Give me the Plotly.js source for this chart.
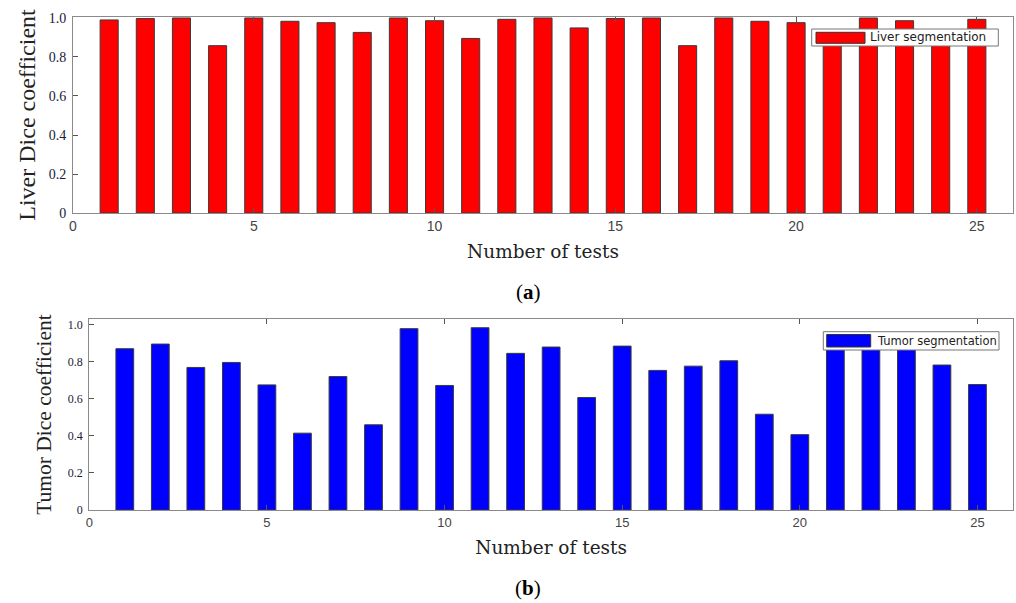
<!DOCTYPE html>
<html>
<head>
<meta charset="utf-8">
<script src="https://cdn.plot.ly/plotly-3.0.1.min.js"></script>
<style>html,body{margin:0;padding:0;background:#fff;}#chart{width:1016px;height:603px;}</style>
</head>
<body>
<div id="chart"></div>
<script>
const tests = [1,2,3,4,5,6,7,8,9,10,11,12,13,14,15,16,17,18,19,20,21,22,23,24,25];
const liverDice = [0.990,0.997,1.0,0.858,1.0,0.983,0.976,0.926,1.0,0.986,0.895,0.993,1.0,0.949,0.997,1.0,0.858,1.0,0.983,0.976,0.92,1.0,0.986,0.93,0.993];
const tumorDice = [0.869,0.894,0.768,0.795,0.674,0.414,0.719,0.459,0.977,0.671,0.982,0.844,0.878,0.606,0.883,0.752,0.775,0.804,0.516,0.406,0.92,0.93,0.90,0.781,0.676];
const xTicks = [0,5,10,15,20,25];
const yTickVals = [0,0.2,0.4,0.6,0.8,1.0];
const yTickText = ['0','0.2','0.4','0.6','0.8','1.0'];
const liverName = 'Liver segmentation';
const tumorName = 'Tumor segmentation';

const frame = '#8a8a8a';
const serif = 'Liberation Serif, Times New Roman, serif';
const wideSerif = 'DejaVu Serif, Georgia, serif';
const sans = 'Liberation Sans, Arial, sans-serif';
const wideSans = 'DejaVu Sans, Verdana, sans-serif';

const traces = [
  {type:'bar', x:tests, y:liverDice, name:liverName, xaxis:'x', yaxis:'y',
   marker:{color:'#ff0000', line:{color:'#3a3a3a', width:1}}, showlegend:false, hoverinfo:'x+y'},
  {type:'bar', x:tests, y:tumorDice, name:tumorName, xaxis:'x2', yaxis:'y2',
   marker:{color:'#0000ff', line:{color:'#3a3a3a', width:1}}, showlegend:false, hoverinfo:'x+y'}
];

function xax(domain, anchor, fs, standoff){
  return {domain:domain, anchor:anchor, range:[0,26], tickvals:xTicks, ticktext:xTicks.map(String),
    ticks:'inside', ticklen:5, tickcolor:'#555', showline:true, linecolor:frame, linewidth:1, mirror:'ticks',
    showgrid:false, zeroline:false, tickfont:{family:sans, size:fs, color:'#444'},
    title:{text:'Number of tests', font:{family:wideSerif, size:18.5, color:'#222'}, standoff:standoff}};
}
function yax(domain, anchor, top, fs, tsize, standoff, text){
  return {domain:domain, anchor:anchor, range:[0,top], tickvals:yTickVals, ticktext:yTickText,
    ticks:'inside', ticklen:5, tickcolor:'#555', showline:true, linecolor:frame, linewidth:1, mirror:true,
    showgrid:false, zeroline:false, ticklabelstandoff:3, tickfont:{family:serif, size:fs, color:'#1a1a3a'},
    title:{text:text, font:{family:serif, size:tsize, color:'#222'}, standoff:standoff}};
}

const layout = {
  width:1016, height:603,
  margin:{l:73, r:3, t:17, b:93},
  paper_bgcolor:'#fff', plot_bgcolor:'#fff',
  bargap:0.5,
  showlegend:false,
  xaxis: xax([0,1], 'y', 14, 12),
  yaxis: yax([0.6024,1], 'x', 1.005, 14, 24, 6, 'Liver Dice coefficient'),
  xaxis2: xax([0.0173,1], 'y2', 13, 12),
  yaxis2: yax([0,0.3874], 'x2', 1.029, 12, 21.5, 10, 'Tumor Dice coefficient'),
  shapes:[
    {type:'rect', xref:'paper', yref:'paper', x0:(811.7-73)/940, x1:(998.3-73)/940, y0:1-(46-17)/493, y1:1-(29-17)/493,
     line:{color:'#777', width:1}, fillcolor:'#fff'},
    {type:'rect', xref:'paper', yref:'paper', x0:(816-73)/940, x1:(865-73)/940, y0:1-(43.3-17)/493, y1:1-(32.3-17)/493,
     line:{color:'#333', width:1}, fillcolor:'#ff0000'},
    {type:'rect', xref:'paper', yref:'paper', x0:(823.3-73)/940, x1:(999-73)/940, y0:1-(350-17)/493, y1:1-(331.7-17)/493,
     line:{color:'#777', width:1}, fillcolor:'#fff'},
    {type:'rect', xref:'paper', yref:'paper', x0:(826.7-73)/940, x1:(870.7-73)/940, y0:1-(347-17)/493, y1:1-(334.5-17)/493,
     line:{color:'#333', width:1}, fillcolor:'#0000ff'}
  ],
  annotations:[
    {xref:'paper', yref:'paper', x:(868-73)/940, y:1-(37.5-17)/493, xanchor:'left', yanchor:'middle', showarrow:false,
     text:liverName, font:{family:wideSans, size:12, color:'#222'}},
    {xref:'paper', yref:'paper', x:(874.5-73)/940, y:1-(341-17)/493, xanchor:'left', yanchor:'middle', showarrow:false,
     text:tumorName, font:{family:wideSans, size:11.5, color:'#222'}},
    {xref:'paper', yref:'paper', x:(528-73)/940, y:1-(292-17)/493, xanchor:'center', yanchor:'middle', showarrow:false,
     text:'(<b>a</b>)', font:{family:serif, size:21, color:'#000'}},
    {xref:'paper', yref:'paper', x:(528-73)/940, y:1-(588-17)/493, xanchor:'center', yanchor:'middle', showarrow:false,
     text:'(<b>b</b>)', font:{family:serif, size:21, color:'#000'}}
  ]
};

Plotly.newPlot('chart', traces, layout, {displayModeBar:false, staticPlot:true});
</script>
</body>
</html>
